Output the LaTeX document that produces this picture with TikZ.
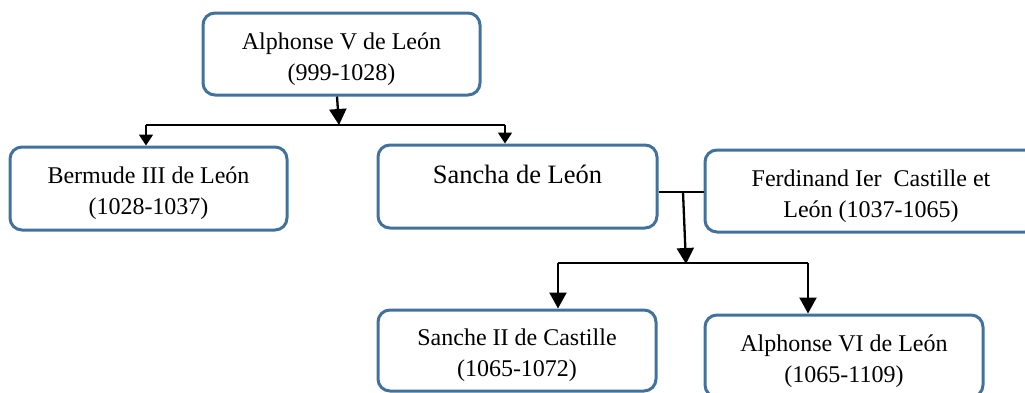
\documentclass[tikz,border=0pt]{standalone}
\usepackage{fontspec}
\setmainfont{Liberation Serif}
\usetikzlibrary{arrows.meta}
\definecolor{boxblue}{HTML}{41719C}
\newcommand{\twoline}[1]{\raisebox{-2.2pt}[\height][\depth]{\begin{tabular}{@{}c@{}}#1\end{tabular}}}
\begin{document}
\begin{tikzpicture}[x=0.5pt,y=-0.5pt,
  famille/.style={draw=boxblue, line width=1.5pt, rounded corners=6pt, inner sep=0pt,
    font=\fontsize{12}{15.5}\selectfont, minimum height=41pt},
  trait/.style={draw=black, line width=0.75pt},
  fleche/.style={draw=black, line width=1.15pt, -{Triangle[width=8.5pt,length=8pt]}},
  flechepetite/.style={draw=black, line width=0.9pt, -{Triangle[width=7pt,length=5.5pt]}}
]
\useasboundingbox (0,0) rectangle (1025,392);
\begin{scope}
\clip (0,0) rectangle (1025,392);
\node[famille, minimum width=138.5pt] (alph5) at (341.5,54) {\twoline{Alphonse V de León\\(999-1028)}};
\node[famille, minimum width=138.5pt, minimum height=41.5pt] (berm) at (148.5,188.5) {\twoline{Bermude III de León\\(1028-1037)}};
\node[famille, minimum width=139.5pt, minimum height=41.5pt, font=\fontsize{13.25}{16}\selectfont] (sancha) at (517.5,186.5) {\raisebox{5.9pt}[\height][\depth]{Sancha de León}};
\node[famille, minimum width=166pt] (ferd) at (871,191) {\twoline{Ferdinand Ier\ \ Castille et\\León (1037-1065)}};
\node[famille, minimum width=139pt, minimum height=40.5pt] (sanche) at (517,350.5) {\twoline{Sanche II de Castille\\(1065-1072)}};
\node[famille, minimum width=139pt] (alph6) at (844,356) {\twoline{Alphonse VI de León\\(1065-1109)}};
\end{scope}

% Alphonse V -> Bermude III, Sancha
\coordinate (j1) at (339,125);
\coordinate (jl) at (146,125);
\coordinate (jr) at (505,125);
\draw[fleche] (337,0 |- alph5.south) -- (j1);
\draw[trait] (jl) -- (jr);
\draw[flechepetite] (jl) -- (jl |- berm.north);
\draw[flechepetite] (jr) -- (jr |- sancha.north);

% Sancha + Ferdinand -> children
\coordinate (m) at (683,192);
\coordinate (j2) at (686,264);
\coordinate (kl) at (558,263);
\coordinate (kr) at (808,263);
\draw[trait] (sancha.east |- m) -- (ferd.west |- m);
\draw[fleche] (m) -- (j2);
\draw[trait] (kl) -- (kr);
\draw[fleche] (kl) -- (kl |- sanche.north);
\draw[fleche] (kr) -- (kr |- alph6.north);
\end{tikzpicture}
\end{document}
